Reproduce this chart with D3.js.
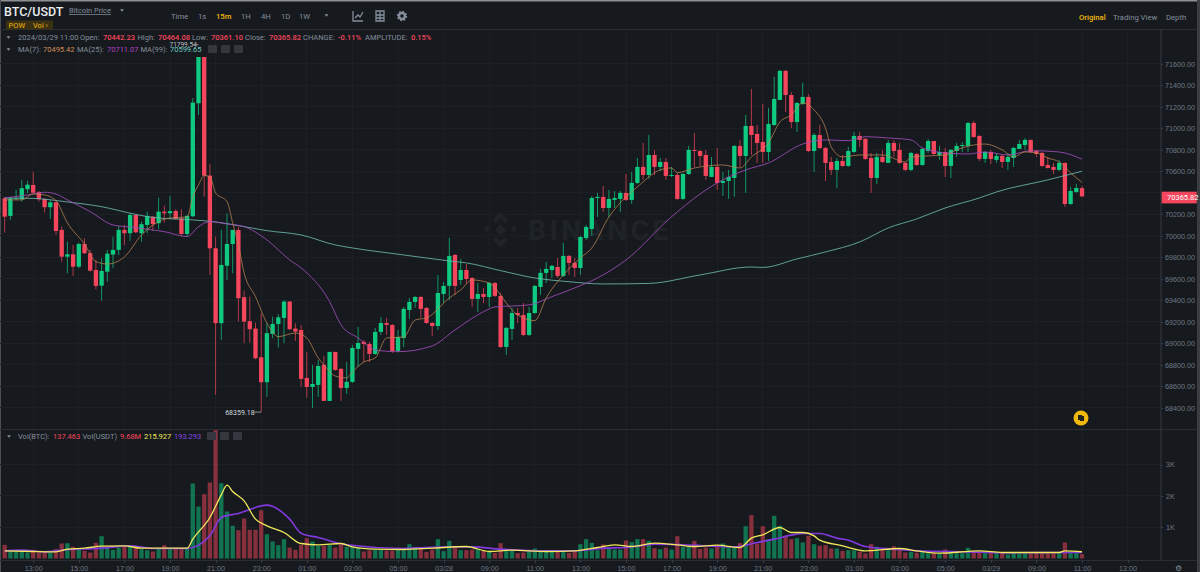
<!DOCTYPE html>
<html>
<head>
<meta charset="utf-8">
<title>BTC/USDT</title>
<script src="https://cdn.jsdelivr.net/npm/d3@7"></script>
<style>
  html, body { margin: 0; background: #161a1e; overflow: hidden; }
  svg { display: block; font-family: Roboto, "Noto Sans", sans-serif; }
  .axis text { fill: #6f7885; font-size: 7.2px; }
  .axis line, .axis path { stroke: #363b43; }
</style>
</head>
<body>
<svg id="chart" width="1200" height="572"></svg>
<script>
// one value per 15m candle
const opens = [
  70348,70184,70342,70339,70432,70472,70404,70342,70265,70311,
  70054,69805,69827,69712,69923,69837,69681,69535,69665,69824,
  69868,70054,70023,70193,70023,70100,70177,70116,70224,70209,
  70230,70162,70016,70181,71232,71780,70559,69883,69186,69721,
  69923,70054,69428,69205,69136,68869,68637,69086,69179,69235,
  69387,69136,69123,68677,68593,68612,68798,68463,68919,68761,
  68584,68640,68947,69012,68993,68900,69105,69188,69170,68928,
  69049,69309,69384,69430,69328,69188,69160,69458,69533,69821,
  69588,69681,69607,69412,69458,69430,69560,69440,68965,69133,
  69281,69263,69077,69281,69523,69654,69681,69709,69626,69812,
  69747,69700,69979,70063,70351,70361,70258,70333,70342,70398,
  70333,70491,70640,70565,70751,70640,70686,70556,70565,70342,
  70574,70798,70788,70751,70547,70640,70491,70509,70537,70835,
  70742,71021,70947,70872,70779,71030,71263,71533,71309,71058,
  71226,71291,70788,70937,70816,70686,70612,70695,70649,70779,
  70928,70900,70723,70537,70733,70677,70863,70798,70677,70612,
  70760,70658,70788,70881,70751,70779,70649,70788,70835,70835,
  71049,70928,70714,70779,70705,70742,70686,70723,70807,70844,
  70891,70788,70770,70658,70640,70612,70677,70295,70407,70442.23
];
const highs = [
  70361,70361,70426,70519,70512,70596,70416,70348,70333,70326,
  70084,69945,69914,69935,69976,69868,69774,69790,69868,69991,
  70091,70100,70209,70202,70131,70224,70184,70354,70280,70370,
  70246,70246,70193,71281,71799.54,71790,70667,69991,70054,70209,
  70054,70084,69489,69433,69191,69279,69186,69247,69272,69402,
  69393,69186,69170,68919,68798,68844,68881,68919,68919,68770,
  68825,68984,69151,69030,69012,69142,69244,69235,69179,69123,
  69337,69421,69440,69440,69337,69198,69635,69570,69979,69830,
  69784,69737,69616,69560,69514,69570,69570,69467,69151,69328,
  69328,69374,69337,69542,69691,69756,69728,69793,69933,69821,
  69793,69998,70100,70370,70398,70463,70426,70416,70416,70574,
  70593,70723,70863,70937,70798,70723,70723,70640,70584,70584,
  70835,70956,70798,70798,70733,70816,70593,70612,70844,70891,
  71123,71365,71030,71226,71188,71477,71542,71542,71337,71240,
  71421,71319,70956,71030,70826,70733,70723,70751,70826,70965,
  70965,70909,70770,70770,70798,70891,70891,70863,70686,70779,
  70770,70816,70900,70881,70835,70816,70807,70863,70872,71055,
  71067,70935,70785,70798,70770,70751,70770,70826,70891,70909,
  70895,70798,70779,70733,70677,70705,70680,70454,70481,70464.08
];
const lows = [
  70029,70147,70337,70317,70395,70395,70317,70214,70156,70007,
  69758,69651,69626,69697,69830,69665,69502,69396,69572,69697,
  69821,69914,69951,70023,69945,70023,70047,70060,70121,70153,
  70147,70000,69991,70174,71123,70363,69635,68519,69030,69588,
  69651,69201,69000,69005,68851,68359.18,68503,69046,68959,69000,
  69123,69021,68593,68491,68398,68500,68463,68463,68742,68463,
  68528,68630,68779,68825,68825,68891,69077,69077,68909,68919,
  68965,69226,69328,69235,69179,69067,69123,69374,69402,69449,
  69542,69551,69337,69291,69374,69337,69430,68956,68891,69030,
  69188,69067,69067,69272,69449,69560,69607,69607,69616,69635,
  69616,69635,69961,69998,70174,70221,70174,70258,70221,70323,
  70295,70481,70519,70528,70565,70602,70519,70547,70333,70333,
  70565,70640,70649,70519,70547,70426,70370,70342,70361,70640,
  70398,70751,70677,70677,70695,71021,71263,71151,71002,70965,
  71216,70779,70593,70807,70509,70565,70444,70640,70640,70770,
  70826,70705,70398,70481,70677,70677,70733,70667,70602,70602,
  70649,70649,70770,70751,70705,70547,70537,70733,70779,70779,
  70909,70695,70677,70667,70677,70630,70612,70640,70807,70798,
  70770,70733,70640,70625,70574,70602,70267,70286,70398,70361.10
];
const closes = [
  70177,70348,70348,70442,70475,70400,70339,70265,70311,70044,
  69805,69827,69712,69923,69837,69675,69533,69672,69833,69868,
  70054,70023,70193,70032,70107,70184,70107,70224,70209,70228,
  70156,70016,70184,71238,71780,70559,69883,69186,69728,69923,
  70054,69418,69201,69130,68860,68637,69093,69179,69241,69387,
  69130,69108,68668,68593,68621,68788,68463,68919,68751,68584,
  68640,68956,69002,68993,68900,69105,69188,69170,68928,69058,
  69319,69384,69430,69319,69188,69160,69467,69533,69812,69533,
  69681,69598,69412,69458,69430,69560,69440,68965,69142,69281,
  69263,69077,69281,69533,69654,69691,69719,69626,69812,69747,
  69700,69988,70081,70351,70361,70258,70342,70351,70398,70333,
  70491,70640,70565,70751,70640,70686,70556,70565,70342,70574,
  70798,70788,70742,70556,70640,70491,70509,70547,70835,70742,
  71021,70937,70863,70779,71040,71272,71533,71309,71058,71235,
  71291,70788,70937,70816,70677,70612,70695,70649,70788,70928,
  70891,70714,70537,70733,70686,70863,70788,70677,70612,70770,
  70658,70807,70881,70760,70779,70649,70798,70835,70844,71049,
  70919,70714,70779,70714,70742,70686,70733,70816,70853,70891,
  70779,70760,70649,70630,70612,70677,70295,70416,70444,70365.82
];
const volumes = [
  437,245,266,245,190,277,190,224,190,298,
  479,490,373,287,245,190,500,713,373,277,
  351,383,373,373,298,266,224,330,426,298,
  330,298,351,2396,1661,2055,2428,4100,2407,1502,
  1044,905,1278,916,916,1544,777,543,426,618,
  351,277,437,650,543,405,405,437,351,437,
  373,373,351,224,266,287,287,256,256,287,
  266,458,373,330,213,287,618,234,565,351,
  266,266,287,309,245,224,181,490,245,245,
  170,190,245,320,266,213,213,213,224,181,
  224,458,618,500,266,447,330,287,287,575,
  522,618,618,565,330,298,351,287,713,373,
  373,565,309,351,320,426,479,373,351,490,
  1033,1385,479,1033,618,1363,1044,724,618,650,
  511,724,458,405,426,320,320,245,266,266,
  213,160,458,373,266,266,394,298,192,213,
  181,213,170,170,160,287,170,170,170,341,
  213,213,192,192,181,192,128,213,160,160,
  160,213,181,170,170,170,511,192,192,137.463
];

// moving averages: candle index + value read at that candle
const ma7Idx = [0,3,5,7,9,11,14,16,18,21,24,27,29,32,33,34,35,36,37,39,40,41,42,44,46,48,51,53,55,56,58,60,61,63,65,67,70,72,74,78,80,82,85,87,88,90,93,95,98,101,103,106,109,111,115,117,118,121,126,129,131,134,136,138,140,142,144,145,147,150,154,158,159,162,165,167,170,172,175,177,179,181,183,185,187,189];
const ma7Val = [70333,70333,70388,70379,70326,70119,69923,69759,69737,69802,70007,70131,70165,70174,70361,70472,70559,70549,70398,70317,70119,69914,69654,69433,69188,69061,69095,69049,68863,68798,68695,68677,68733,68825,68863,69049,69058,69216,69235,69421,69495,69588,69560,69449,69374,69263,69210,69421,69635,69793,69886,70174,70361,70454,70612,70630,70586,70630,70658,70630,70733,70863,71058,71123,71235,71170,71002,70826,70733,70751,70751,70686,70733,70742,70751,70798,70844,70853,70798,70733,70779,70770,70723,70686,70584,70495.42];
const ma25Idx = [0,4,7,9,11,15,19,22,25,28,32,34,36,39,42,46,50,52,57,59,62,65,69,75,79,84,86,92,96,100,104,109,117,125,130,134,140,144,148,151,155,159,161,165,169,172,176,180,185,189];
const ma25Val = [70351,70379,70404,70388,70333,70224,70100,70081,70060,70038,69991,70084,70131,70109,70084,69961,69774,69700,69387,69170,69049,68937,68921,68975,69123,69293,69337,69356,69433,69514,69607,69774,70177,70491,70612,70677,70853,70891,70884,70921,70909,70891,70816,70770,70760,70779,70751,70791,70779,70711.07];
const ma99Idx = [0,5,11,17,23,26,33,37,41,46,52,58,61,70,78,81,87,93,99,105,113,122,131,133,139,144,150,155,160,165,171,174,183,189];
const ma99Val = [70351,70347,70314,70270,70198,70170,70147,70128,70094,70047,70007,69914,69886,69821,69765,69747,69675,69607,69572,69551,69556,69635,69709,69705,69784,69849,69942,70072,70156,70258,70351,70407,70519,70599.65];

const volMa5Idx = [0,5,9,11,14,17,21,24,28,32,33,36,38,39,40,42,44,46,49,52,55,59,61,65,70,75,81,85,89,95,100,104,107,110,114,118,121,125,129,131,133,136,138,140,142,143,147,151,157,160,164,171,175,185,186,189];
const volMa5Val = [245,224,213,298,330,394,405,330,330,330,618,1310,2034,2343,2141,1842,1257,1044,831,479,437,479,373,298,287,330,383,224,266,224,245,351,437,383,490,437,383,426,351,650,756,990,831,831,724,586,405,245,320,245,170,245,192,192,245,215.927];
const volMa10Idx = [0,3,7,10,17,22,26,32,36,38,41,46,50,52,55,60,70,78,82,87,95,100,105,109,114,119,128,132,135,138,140,143,146,148,151,156,160,169,176,185,189];
const volMa10Val = [245,266,213,266,330,405,320,320,724,1310,1438,1704,1257,809,671,437,320,373,373,298,245,245,330,351,458,437,373,511,618,746,799,799,650,586,383,298,245,213,181,192,193.293];

const priceTicks = d3.range(68400, 71601, 200);
const volTicks = [1000, 2000, 3000];
const timeTickIdx = d3.range(5, 198, 8);
const timeTickLabels = ["13:00","15:00","17:00","19:00","21:00","23:00","01:00","03:00","05:00","03/28","09:00","11:00","13:00","15:00","17:00","19:00","21:00","23:00","01:00","03:00","05:00","03/29","09:00","11:00","13:00"];

const UP = "#0ecb81", DOWN = "#f6465d", GREY = "#848e9c", ORANGE = "#f0b90b";
const TXT = 7.5;

const svg = d3.select("#chart");
const idx = d3.range(opens.length);

const x = d3.scaleLinear().domain([0, 189]).range([4.7, 1082]);
const y = d3.scaleLinear().domain([68400, 71600]).range([407.7, 63.7]);
const yVol = d3.scaleLinear().domain([0, 3000]).range([558.5, 464.6]);

const defs = svg.append("defs");
defs.append("clipPath").attr("id", "price-clip").append("rect").attr("x", 0).attr("y", 57).attr("width", 1161).attr("height", 372);
defs.append("clipPath").attr("id", "vol-clip").append("rect").attr("x", 0).attr("y", 430).attr("width", 1161).attr("height", 130);

// frame
svg.append("rect").attr("width", 1200).attr("height", 572).attr("fill", "#161a1e");
svg.append("rect").attr("width", 1197).attr("height", 1.5).attr("fill", "#8d8f92");
svg.append("rect").attr("x", 1197).attr("y", 0).attr("width", 3).attr("height", 572).attr("fill", "#3a3d42");
svg.append("rect").attr("x", 0).attr("y", 0).attr("width", 1).attr("height", 572).attr("fill", "#4a4d52");

// grid
const grid = svg.append("g").attr("stroke", "#1c2025").attr("shape-rendering", "crispEdges");
grid.selectAll(".gv").data(timeTickIdx).join("line")
  .attr("x1", d => x(d)).attr("x2", d => x(d)).attr("y1", 29).attr("y2", 560);
grid.selectAll(".gh").data(priceTicks).join("line")
  .attr("x1", 0).attr("x2", 1161).attr("y1", d => y(d)).attr("y2", d => y(d));
grid.selectAll(".gw").data(volTicks).join("line")
  .attr("x1", 0).attr("x2", 1161).attr("y1", d => yVol(d)).attr("y2", d => yVol(d));

// dividers
const div = svg.append("g").attr("stroke", "#2a2e34").attr("shape-rendering", "crispEdges");
div.append("line").attr("x1", 0).attr("x2", 1197).attr("y1", 29).attr("y2", 29);
div.append("line").attr("x1", 0).attr("x2", 1197).attr("y1", 429).attr("y2", 429);
div.append("line").attr("x1", 0).attr("x2", 1197).attr("y1", 560).attr("y2", 560);

// watermark
const mark = svg.append("g").attr("fill", "#1f2328");
mark.append("path").attr("transform", "translate(500.5,233.3) scale(1.12)")
  .attr("d", "M0,-19 L7,-12 L4,-9 L0,-13 L-4,-9 L-7,-12Z M-12,-7 L-9,-4 L-12,-1 L-15,-4Z M12,-7 L15,-4 L12,-1 L9,-4Z M0,-8 L5,-3 L0,2 L-5,-3Z M-4,3 L0,7 L4,3 L7,6 L0,13 L-7,6Z");
mark.append("text").attr("x", 528).attr("y", 240).attr("font-size", 28).attr("font-weight", 700)
  .attr("letter-spacing", 3.6).text("BINANCE");

// candles
const candles = svg.append("g").attr("clip-path", "url(#price-clip)");
candles.selectAll(".wick").data(idx).join("line").attr("class", "wick")
  .attr("x1", d => x(d)).attr("x2", d => x(d))
  .attr("y1", d => y(highs[d])).attr("y2", d => y(lows[d]))
  .attr("stroke", d => closes[d] >= opens[d] ? UP : DOWN)
  .attr("stroke-opacity", 0.7);
candles.selectAll(".body").data(idx).join("rect").attr("class", "body")
  .attr("x", d => x(d) - 2.15).attr("width", 4.3)
  .attr("y", d => y(Math.max(opens[d], closes[d])))
  .attr("height", d => Math.max(1, Math.abs(y(opens[d]) - y(closes[d]))))
  .attr("fill", d => closes[d] >= opens[d] ? UP : DOWN);

// price moving averages
function maLine(g, scale, indices, values, color, width, opacity) {
  const line = d3.line().x(d => x(indices[d])).y(d => scale(values[d])).curve(d3.curveMonotoneX);
  g.append("path").datum(d3.range(indices.length))
    .attr("fill", "none").attr("stroke", color).attr("stroke-width", width)
    .attr("stroke-opacity", opacity || 1).attr("d", line);
}
const mas = svg.append("g").attr("clip-path", "url(#price-clip)");
maLine(mas, y, ma99Idx, ma99Val, "#6db5ae", 1, 0.85);
maLine(mas, y, ma25Idx, ma25Val, "#a04cb8", 1, 0.85);
maLine(mas, y, ma7Idx, ma7Val, "#b98352", 0.9, 0.85);

// volume
const vols = svg.append("g").attr("clip-path", "url(#vol-clip)");
vols.selectAll("rect").data(idx).join("rect")
  .attr("x", d => x(d) - 2.15).attr("width", 4.3)
  .attr("y", d => yVol(volumes[d])).attr("height", d => yVol(0) - yVol(volumes[d]))
  .attr("fill", d => closes[d] >= opens[d] ? UP : DOWN).attr("fill-opacity", 0.5);
maLine(vols, yVol, volMa10Idx, volMa10Val, "#8338e0", 1.6);
maLine(vols, yVol, volMa5Idx, volMa5Val, "#f2e85c", 1.3);

// axes (70400 sits under the last price tag)
const priceAxis = svg.append("g").attr("class", "axis").attr("transform", "translate(1161,0)")
  .call(d3.axisRight(y).tickValues(priceTicks.filter(d => d !== 70400)).tickFormat(d3.format(".2f")).tickSize(2).tickPadding(2));
priceAxis.select(".domain").attr("d", "M0,29V560");
svg.append("g").attr("class", "axis").attr("transform", "translate(1161,0)")
  .call(d3.axisRight(yVol).tickValues(volTicks).tickFormat(d => d / 1000 + "K").tickSize(2).tickPadding(3))
  .select(".domain").remove();
const timeAxis = svg.append("g").attr("class", "axis").attr("transform", "translate(0,560)")
  .call(d3.axisBottom(x).tickValues(timeTickIdx).tickFormat((d, i) => timeTickLabels[i]).tickSize(3).tickPadding(2.5));
timeAxis.select(".domain").remove();
svg.selectAll(".axis .tick line").attr("shape-rendering", "crispEdges");

// text helper
function label(px, py, text, color, size, extra) {
  const t = svg.append("text").attr("x", px).attr("y", py).attr("fill", color)
    .attr("font-size", size || TXT).text(text);
  if (extra) Object.keys(extra).forEach(k => t.attr(k, extra[k]));
  return t;
}
function tri(px, py, color) {
  svg.append("path").attr("d", `M${px - 2},${py - 1.2}h4l-2,2.4z`).attr("fill", color);
}
function box(px, py) {
  svg.append("rect").attr("x", px).attr("y", py).attr("width", 9).attr("height", 8).attr("rx", 1).attr("fill", "#34383e");
}

// header bar
label(4, 15.5, "BTC/USDT", "#eaecef", 12.5, { "font-weight": 500 });
label(69, 13, "Bitcoin Price", GREY, 7.5, { "text-decoration": "underline" });
tri(122, 10.5, GREY);
svg.append("rect").attr("x", 6).attr("y", 20.5).attr("width", 47).attr("height", 9).attr("rx", 1).attr("fill", "#3a3012");
label(8.5, 27.8, "POW", ORANGE, 7.5);
label(33, 27.8, "Vol ›", ORANGE, 7.5);

const periods = ["Time", "1s", "15m", "1H", "4H", "1D", "1W"];
const periodX = [171, 198, 216, 241, 261, 281, 299];
periods.forEach((p, i) => label(periodX[i], 18.5, p, p === "15m" ? ORANGE : GREY, 7.7, p === "15m" ? { "font-weight": 500 } : null));
tri(326.5, 15.5, GREY);
// toolbar icons
svg.append("path").attr("d", "M353,11v10h10M355,18l3,-3l2,2l3,-5").attr("fill", "none").attr("stroke", GREY).attr("stroke-width", 1.3);
svg.append("path").attr("d", "M376,11h8v10h-8zM376,15h8M376,18h8M380,11v10").attr("fill", "none").attr("stroke", GREY).attr("stroke-width", 1.3);
svg.append("circle").attr("cx", 402).attr("cy", 16).attr("r", 3).attr("fill", "none").attr("stroke", GREY).attr("stroke-width", 2.4);
svg.append("circle").attr("cx", 402).attr("cy", 16).attr("r", 4.5).attr("fill", "none").attr("stroke", GREY).attr("stroke-width", 1.4).attr("stroke-dasharray", "1.8 1.7");

label(1079, 19.5, "Original", ORANGE, 7.7, { "font-weight": 500 });
label(1113, 19.5, "Trading View", GREY, 7.7);
label(1166, 19.5, "Depth", GREY, 7.7);

// legend rows
tri(8.5, 37.5, GREY);
const ohlcText = ["2024/03/29 11:00", "Open:", "70442.23", "High:", "70464.08", "Low:", "70361.10", "Close:", "70365.82", "CHANGE:", "-0.11%", "AMPLITUDE:", "0.15%"];
const ohlcX = [18, 80, 103, 137.5, 158, 192, 211, 245, 269, 303, 338, 365, 411];
ohlcText.forEach((s, i) => {
  const isValue = i > 0 && i % 2 === 0;
  label(ohlcX[i], 39.8, s, isValue ? DOWN : GREY, TXT, isValue ? { "font-weight": 500 } : null);
});

tri(8.5, 49.5, GREY);
const maText = ["MA(7):", "70495.42", "MA(25):", "70711.07", "MA(99):", "70599.65"];
const maX = [18, 43, 77, 107, 140.5, 170];
const maColors = [GREY, "#d08c55", GREY, "#b13fc8", GREY, "#6ecbc3"];
maText.forEach((s, i) => label(maX[i], 52, s, maColors[i]));
[208, 221, 234].forEach(px => box(px, 45));

tri(9, 436.5, GREY);
const volText = ["Vol(BTC):", "137.463", "Vol(USDT)", "9.68M", "215.927", "193.293"];
const volX = [18, 53, 82.5, 120, 144, 174];
const volColors = [GREY, DOWN, GREY, DOWN, "#f2e85c", "#8a45e8"];
volText.forEach((s, i) => label(volX[i], 439, s, volColors[i]));
[207, 220, 233].forEach(px => box(px, 432));

// high / low callouts
const hiIdx = highs.indexOf(d3.max(highs)), loIdx = lows.indexOf(d3.min(lows));
label(x(hiIdx) - 29, y(highs[hiIdx]) + 5, d3.format(".2f")(highs[hiIdx]), "#b9bdc3", 6.5);
svg.append("line").attr("x1", x(hiIdx) - 6).attr("x2", x(hiIdx)).attr("y1", y(highs[hiIdx]) + 2.5).attr("y2", y(highs[hiIdx]) + 2.5).attr("stroke", "#8a8f96");
label(x(loIdx) - 36, y(lows[loIdx]) + 2.5, d3.format(".2f")(lows[loIdx]), "#d5d8dc", 7);
svg.append("line").attr("x1", x(loIdx) - 7).attr("x2", x(loIdx)).attr("y1", y(lows[loIdx])).attr("y2", y(lows[loIdx])).attr("stroke", "#8a8f96");

// last price tag
const lastY = y(closes[closes.length - 1]);
svg.append("rect").attr("x", 1161.7).attr("y", lastY - 4.7).attr("width", 35).attr("height", 11.7).attr("fill", DOWN);
label(1167, lastY + 3.8, d3.format(".2f")(closes[closes.length - 1]), "#fff", TXT);

// floating icons
svg.append("circle").attr("cx", 1081).attr("cy", 418).attr("r", 7.5).attr("fill", ORANGE);
svg.append("path").attr("d", "M1078,415h4v1h2v5h-4v-1h-2z").attr("fill", "#222");
label(1175, 570.5, "⚙", GREY, 8);
</script>
</body>
</html>
